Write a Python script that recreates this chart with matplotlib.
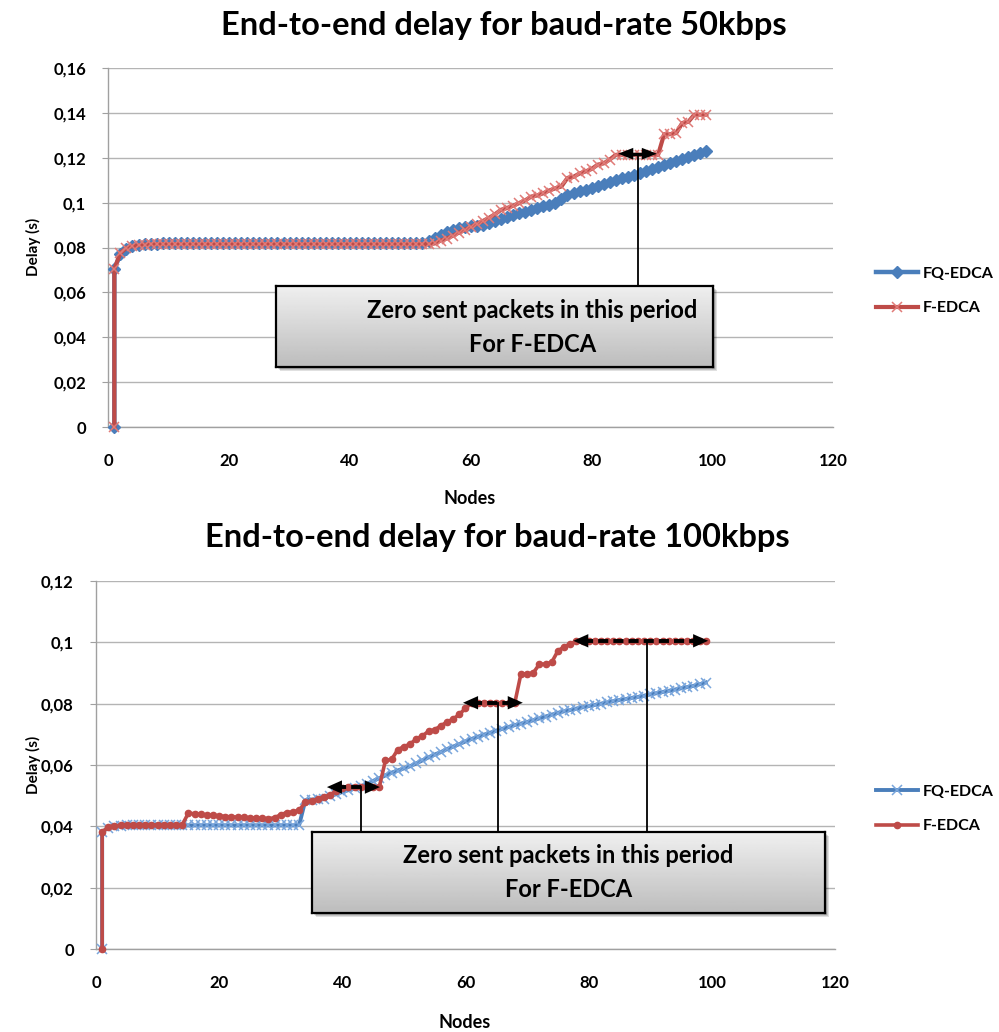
import matplotlib
matplotlib.use('Agg')
import matplotlib.pyplot as plt
from matplotlib.patches import Rectangle
import numpy as np

plt.rcParams['font.family'] = ['Lato', 'DejaVu Sans']

W, H = 999, 1032

# node 1 shows up twice: the start-up sample at 0 s and the first real one
nodes = [1] + list(range(1, 100))

# ---- 50 kbps ----
fq_50 = [0.0, 0.0705, 0.0770, 0.0795, 0.0805, 0.0810, 0.0814, 0.0816, 0.0817, 0.0818,
         0.0818, 0.0818, 0.0818, 0.0818, 0.0818, 0.0818, 0.0818, 0.0818, 0.0818, 0.0818,
         0.0818, 0.0818, 0.0818, 0.0818, 0.0818, 0.0818, 0.0818, 0.0818, 0.0818, 0.0818,
         0.0818, 0.0818, 0.0818, 0.0818, 0.0818, 0.0818, 0.0818, 0.0818, 0.0818, 0.0818,
         0.0818, 0.0818, 0.0818, 0.0818, 0.0818, 0.0818, 0.0818, 0.0818, 0.0818, 0.0818,
         0.0818, 0.0818, 0.0820, 0.0828, 0.0842, 0.0855, 0.0868, 0.0879, 0.0885, 0.0892,
         0.0895, 0.0898, 0.0901, 0.0910, 0.0918, 0.0927, 0.0936, 0.0945, 0.0953, 0.0960,
         0.0968, 0.0975, 0.0983, 0.0990, 0.0998, 0.1015, 0.1035, 0.1042, 0.1050, 0.1057,
         0.1065, 0.1072, 0.1082, 0.1092, 0.1100, 0.1108, 0.1116, 0.1124, 0.1133, 0.1142,
         0.1151, 0.1160, 0.1169, 0.1177, 0.1186, 0.1195, 0.1204, 0.1213, 0.1222, 0.1231]

f_50 = [0.0, 0.0705, 0.0775, 0.0798, 0.0806, 0.0810, 0.0813, 0.0814, 0.0815, 0.0815,
        0.0815, 0.0815, 0.0815, 0.0815, 0.0815, 0.0815, 0.0815, 0.0815, 0.0815, 0.0815,
        0.0815, 0.0815, 0.0815, 0.0815, 0.0815, 0.0815, 0.0815, 0.0815, 0.0815, 0.0815,
        0.0815, 0.0815, 0.0815, 0.0815, 0.0815, 0.0815, 0.0815, 0.0815, 0.0815, 0.0815,
        0.0815, 0.0815, 0.0815, 0.0815, 0.0815, 0.0815, 0.0815, 0.0815, 0.0815, 0.0815,
        0.0815, 0.0815, 0.0815, 0.0815, 0.0818, 0.0831, 0.0840, 0.0852, 0.0866, 0.0879,
        0.0892, 0.0905, 0.0918, 0.0932, 0.0948, 0.0968, 0.0976, 0.0986, 0.0998, 0.1010,
        0.1027, 0.1032, 0.1042, 0.1054, 0.1064, 0.1072, 0.1110, 0.1115, 0.1130, 0.1139,
        0.1150, 0.1169, 0.1175, 0.1192, 0.1213, 0.1213, 0.1213, 0.1213, 0.1213, 0.1213,
        0.1213, 0.1213, 0.1305, 0.1305, 0.1310, 0.1355, 0.1360, 0.1392, 0.1392, 0.1392]

# ---- 100 kbps ----
fq_100 = [0.0, 0.0381, 0.0396, 0.0400, 0.0402, 0.0403, 0.0403, 0.0403, 0.0403, 0.0403,
          0.0403, 0.0403, 0.0403, 0.0403, 0.0403, 0.0403, 0.0403, 0.0403, 0.0403, 0.0403,
          0.0403, 0.0403, 0.0403, 0.0403, 0.0403, 0.0403, 0.0403, 0.0403, 0.0403, 0.0403,
          0.0403, 0.0403, 0.0403, 0.0405, 0.0485, 0.0487, 0.0488, 0.0490, 0.0498, 0.0505,
          0.0512, 0.0518, 0.0524, 0.0530, 0.0538, 0.0548, 0.0557, 0.0566, 0.0575, 0.0582,
          0.0589, 0.0596, 0.0605, 0.0615, 0.0625, 0.0634, 0.0642, 0.0652, 0.0660, 0.0668,
          0.0677, 0.0685, 0.0692, 0.0699, 0.0705, 0.0712, 0.0718, 0.0724, 0.0730, 0.0735,
          0.0740, 0.0746, 0.0752, 0.0758, 0.0764, 0.0770, 0.0775, 0.0779, 0.0784, 0.0788,
          0.0792, 0.0796, 0.0800, 0.0804, 0.0808, 0.0812, 0.0815, 0.0819, 0.0822, 0.0826,
          0.0830, 0.0834, 0.0838, 0.0842, 0.0846, 0.0850, 0.0854, 0.0858, 0.0863, 0.0869]

f_100 = [0.0, 0.0381, 0.0398, 0.0401, 0.0403, 0.0405, 0.0405, 0.0405, 0.0405, 0.0405,
         0.0405, 0.0405, 0.0405, 0.0405, 0.0405, 0.0443, 0.0441, 0.0439, 0.0437, 0.0436,
         0.0434, 0.0432, 0.0431, 0.0430, 0.0429, 0.0428, 0.0427, 0.0426, 0.0425, 0.0428,
         0.0438, 0.0445, 0.0447, 0.0452, 0.0479, 0.0482, 0.0488, 0.0495, 0.0503, 0.0515,
         0.0525, 0.0528, 0.0528, 0.0528, 0.0528, 0.0528, 0.0528, 0.0615, 0.0618, 0.0650,
         0.0660, 0.0668, 0.0685, 0.0695, 0.0710, 0.0715, 0.0728, 0.0740, 0.0750, 0.0765,
         0.0785, 0.0802, 0.0802, 0.0802, 0.0802, 0.0802, 0.0802, 0.0802, 0.0802, 0.0897,
         0.0897, 0.0900, 0.0929, 0.0929, 0.0935, 0.0972, 0.0985, 0.0995, 0.1003, 0.1003,
         0.1003, 0.1003, 0.1003, 0.1003, 0.1003, 0.1003, 0.1003, 0.1003, 0.1003, 0.1003,
         0.1003, 0.1003, 0.1003, 0.1003, 0.1003, 0.1003, 0.1003, 0.1003, 0.1003, 0.1003]

xticks = [0, 20, 40, 60, 80, 100, 120]
yticks_50 = [0, 0.02, 0.04, 0.06, 0.08, 0.1, 0.12, 0.14, 0.16]
yticks_100 = [0, 0.02, 0.04, 0.06, 0.08, 0.1, 0.12]

# "zero sent packets" periods: (start node, end node, delay level, connector node)
gaps_50 = [(84.4, 90.8, 0.1218, 87.6)]
gaps_100 = [(37.5, 46.1, 0.0528, 43.0),
            (59.6, 69.3, 0.0803, 65.3),
            (77.5, 99.4, 0.1005, 89.4)]

BLUE = '#4a7ebb'
RED = '#be4b48'
note = 'Zero sent packets in this period\nFor F-EDCA'


def px_rect(l, t, r, b):
    return [l / W, 1 - b / H, (r - l) / W, (b - t) / H]


def style_axes(ax, yticks, ymax):
    ax.set_xlim(0, 120)
    ax.set_ylim(0, ymax)
    ax.set_xticks(xticks)
    ax.set_yticks(yticks)
    ax.set_yticklabels([f'{v:g}'.replace('.', ',') for v in yticks])
    ax.grid(axis='y', color='#b4b4b4', lw=1.0)
    ax.set_axisbelow(True)
    for s in ['top', 'right']:
        ax.spines[s].set_visible(False)
    for s in ['left', 'bottom']:
        ax.spines[s].set_color('#a0a0a0')
        ax.spines[s].set_linewidth(1.0)
    ax.tick_params(axis='x', length=0, pad=19, labelsize=12)
    ax.tick_params(axis='y', length=4, color='#a0a0a0', pad=12, labelsize=12)
    for lab in ax.get_xticklabels() + ax.get_yticklabels():
        lab.set_fontweight('bold')


def note_box(rect, text_x, text_y):
    l, b, w, h = rect
    for i, a in enumerate([0.12, 0.12, 0.15]):
        off = (4 - i) / W
        fig.patches.append(Rectangle((l + off, b - (4 - i) / H), w, h, transform=fig.transFigure,
                                     facecolor='black', edgecolor='none', alpha=a, zorder=1.5))
    bx = fig.add_axes(rect, zorder=2)
    grad = np.linspace(0.94, 0.74, 64)[:, None]
    bx.imshow(grad, cmap='gray', vmin=0, vmax=1, aspect='auto', extent=(0, 1, 0, 1))
    bx.set_xticks([])
    bx.set_yticks([])
    for s in bx.spines.values():
        s.set_color('black')
        s.set_linewidth(1.6)
    bx.text(text_x, text_y, note, ha='center', va='center', fontsize=17, fontweight='bold',
            linespacing=1.6, transform=bx.transAxes)


fig = plt.figure(figsize=(W / 100, H / 100), dpi=100)

# ---------------- top chart: 50 kbps ----------------
ax1 = fig.add_axes(px_rect(108.3, 68, 833.3, 427))
ax1.plot(nodes, fq_50, color=BLUE, lw=3.2, marker='D', ms=6.5, mfc=BLUE, mec=BLUE,
         label='FQ-EDCA', clip_on=False, zorder=3)
ax1.plot(nodes, f_50, color=RED, lw=3.0, marker='x', ms=7, mew=1.1, mec='#e07b78',
         label='F-EDCA', clip_on=False, zorder=3)
style_axes(ax1, yticks_50, 0.16)

for x1, x2, y, xc in gaps_50:
    ax1.plot([xc, xc], [y, 0.06], color='black', lw=1.3, zorder=4)
    ax1.plot([x1 + 1.5, x2 - 1.5], [y, y], color='black', lw=2.4, zorder=5)
    ax1.annotate('', xy=(x2, y), xytext=(x1, y),
                 arrowprops=dict(arrowstyle='<|-|>,head_length=0.9,head_width=0.35', color='black',
                                 lw=0.01, mutation_scale=12, shrinkA=0, shrinkB=0), zorder=5)

ax1.legend(loc='center left', bbox_to_anchor=(876 / W, 1 - 291 / H), bbox_transform=fig.transFigure,
           frameon=False, borderpad=0, borderaxespad=0, handlelength=2.6, handletextpad=0.3,
           labelspacing=1.25, prop=dict(weight='bold', size=11.5))

fig.text(504 / W, 1 - 25 / H, 'End-to-end delay for baud-rate 50kbps', ha='center', va='center',
         fontsize=23.5, fontweight='bold')
fig.text(470 / W, 1 - 499 / H, 'Nodes', ha='center', va='center', fontsize=13, fontweight='bold')
fig.text(33 / W, 1 - 247 / H, 'Delay (s)', ha='center', va='center', rotation=90, fontsize=11,
         fontweight='bold')

note_box(px_rect(276, 286, 713, 367), 0.586, 0.49)

# ---------------- bottom chart: 100 kbps ----------------
ax2 = fig.add_axes(px_rect(96, 581, 835, 949))
ax2.plot(nodes, fq_100, color=BLUE, lw=2.8, marker='x', ms=6.5, mew=1.1, mec='#7aa6dc',
         label='FQ-EDCA', clip_on=False, zorder=3)
ax2.plot(nodes, f_100, color=RED, lw=2.6, marker='o', ms=4.5, mfc=RED, mec=RED,
         label='F-EDCA', clip_on=False, zorder=3)
style_axes(ax2, yticks_100, 0.12)

for x1, x2, y, xc in gaps_100:
    ax2.plot([xc, xc], [y, 0.035], color='black', lw=1.3, zorder=4)
    ax2.plot([x1 + 1.5, x2 - 1.5], [y, y], color='black', lw=2.8, dashes=(2.6, 1.3), zorder=5)
    ax2.annotate('', xy=(x2, y), xytext=(x1, y),
                 arrowprops=dict(arrowstyle='<|-|>,head_length=0.9,head_width=0.4', color='black',
                                 lw=0.01, mutation_scale=12, shrinkA=0, shrinkB=0), zorder=5)

ax2.legend(loc='center left', bbox_to_anchor=(876 / W, 1 - 809 / H), bbox_transform=fig.transFigure,
           frameon=False, borderpad=0, borderaxespad=0, handlelength=2.6, handletextpad=0.3,
           labelspacing=1.25, prop=dict(weight='bold', size=11.5))

fig.text(497 / W, 1 - 537 / H, 'End-to-end delay for baud-rate 100kbps', ha='center', va='center',
         fontsize=23.5, fontweight='bold')
fig.text(465 / W, 1 - 1022 / H, 'Nodes', ha='center', va='center', fontsize=13, fontweight='bold')
fig.text(33 / W, 1 - 765 / H, 'Delay (s)', ha='center', va='center', rotation=90, fontsize=11,
         fontweight='bold')

note_box(px_rect(312, 832, 825, 913), 0.5, 0.5)

fig.savefig('out.png', dpi=100)
